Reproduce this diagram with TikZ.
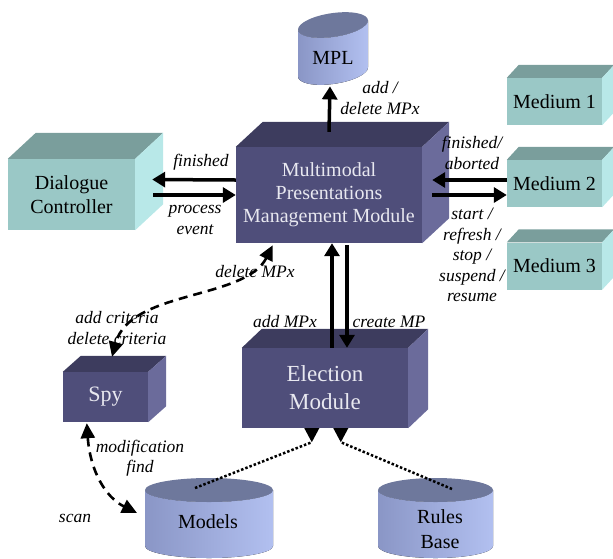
\documentclass[tikz,border=0pt]{standalone}
\usepackage{fontspec}
\setmainfont{Liberation Serif}
\usetikzlibrary{arrows.meta,calc}

\definecolor{modfront}{HTML}{4F4E7A}
\definecolor{modtop}{HTML}{3D3C5E}
\definecolor{modside}{HTML}{6B6B9B}
\definecolor{modtext}{HTML}{E8E8F0}
\definecolor{tealfront}{HTML}{9AC8C6}
\definecolor{tealtop}{HTML}{7A9E9C}
\definecolor{tealside}{HTML}{B8E8E8}
\definecolor{drumdark}{HTML}{8A96C6}
\definecolor{drumlight}{HTML}{B2C0F0}
\definecolor{drumtop}{HTML}{6E789C}

% top and right faces of a cuboid whose front face is node #1
\newcommand\cubefaces[5]{%
  \fill[#4] (#1.north west) -- ++(#2,-#3) -- ($(#1.north east)+(#2,-#3)$) -- (#1.north east) -- cycle;
  \fill[#5] (#1.north east) -- ++(#2,-#3) -- ($(#1.south east)+(#2,-#3)$) -- (#1.south east) -- cycle;}

% drum: centre x, top y, x radius, y radius, height
\newcommand\drum[5]{%
  \fill[left color=drumdark, right color=drumlight]
    ({#1-#3},#2) -- ({#1-#3},{#2+#5})
    arc[start angle=180, end angle=0, x radius=#3, y radius=#4]
    -- ({#1+#3},#2)
    arc[start angle=0, end angle=180, x radius=#3, y radius=#4] -- cycle;
  \fill[drumtop] (#1,#2) ellipse[x radius=#3, y radius=#4];}

\tikzset{
  modbox/.style={fill=modfront, text=modtext, align=center, inner sep=0pt,
    font=\fontsize{20}{23}\selectfont},
  tealbox/.style={fill=tealfront, text=black, align=center, inner sep=0pt,
    font=\fontsize{20}{24}\selectfont},
  drumtext/.style={align=center, inner sep=0pt, font=\fontsize{20}{25}\selectfont},
  lab/.style={align=center, inner sep=0pt, font=\fontsize{17.5}{20.5}\selectfont\itshape},
  bigarrow/.style={line width=3.5pt, -{Triangle[length=13pt,width=15pt]}},
  dasharrow/.style={line width=2.6pt, dash pattern=on 9pt off 6pt,
    {Triangle[length=15pt,width=14pt]}-{Triangle[length=15pt,width=14pt]}},
  dotline/.style={line width=2.5pt, dash pattern=on 2.5pt off 2pt},
}

\begin{document}
\begin{tikzpicture}[x=1pt,y=-1pt]
\useasboundingbox (0,0) rectangle (613,558);

% ---- cuboid modules
\node[tealbox, minimum width=127pt, minimum height=71pt] (dc) at (71.5,194.5) {Dialogue\\Controller};
\cubefaces{dc}{28}{26}{tealtop}{tealside}

\node[modbox, minimum width=186pt, minimum height=96pt] (mppm) at (329,195) {Multimodal\\Presentations\\Management Module};
\cubefaces{mppm}{27}{25}{modtop}{modside}

\node[tealbox, minimum width=95pt, minimum height=47pt] (m1) at (554.5,101.5) {Medium 1};
\cubefaces{m1}{12}{13}{tealtop}{tealside}
\node[tealbox, minimum width=95pt, minimum height=47pt] (m2) at (554.5,183.5) {Medium 2};
\cubefaces{m2}{12}{13}{tealtop}{tealside}
\node[tealbox, minimum width=95pt, minimum height=47pt] (m3) at (554.5,266) {Medium 3};
\cubefaces{m3}{12}{13}{tealtop}{tealside}

\node[modbox, minimum width=85pt, minimum height=50pt, font=\fontsize{22}{26}\selectfont] (spy) at (105.5,397) {Spy};
\cubefaces{spy}{18}{16}{modtop}{modside}

\node[modbox, minimum width=166pt, minimum height=80pt, font=\fontsize{23}{28}\selectfont] (elect) at (325,388) {Election\\Module};
\cubefaces{elect}{20}{19}{modtop}{modside}

% ---- drums
\begin{scope}[shift={(333,0)}, yslant=0.13]
  \drum{0}{25}{35}{12}{47}
  \node[drumtext] (mpl) at (0,58) {MPL};
  \coordinate (mpl-base) at (-3,86);
\end{scope}

\drum{209}{490}{64}{12}{56}
\node[drumtext] (models) at (208,522) {Models};
\coordinate (models-top) at (195,488);
\coordinate (models-side) at (137,513);

\drum{435.5}{490}{57.5}{12}{56}
\node[drumtext] (rules) at (440,529.5) {Rules\\Base};
\coordinate (rules-top) at (452,489);

% ---- solid arrows
\draw[bigarrow] ($(mppm.north)+(0,-15)$) -- (mpl-base);
\node[lab] (l-mpl) at (380,98) {add /\\delete MPx};

\draw[bigarrow] ($(mppm.west)+(0,-15)$) -- ($(dc.east)+(17,-15)$);
\draw[bigarrow] ($(dc.east)+(18,0.5)$) -- ($(mppm.west)+(0,0)$);
\node[lab] (l-fin) at (201,162) {finished};
\node[lab] (l-proc) at (195,220) {process\\event};

\draw[bigarrow] ($(m2.west)+(0,-3.5)$) -- ($(mppm.east)+(10,-15)$);
\draw[bigarrow] ($(mppm.east)+(10,0)$) -- ($(m2.west)+(0,11.5)$);
\node[lab] (l-abort) at (472,153) {finished/\\aborted};
\node[lab] (l-ctrl) at (472,255) {start /\\refresh /\\stop /\\suspend /\\resume};

\draw[bigarrow] ($(elect.north)+(7,0)$) -- ($(mppm.south)+(3,0)$);
\draw[bigarrow] ($(mppm.south)+(18,2)$) -- ($(elect.north)+(22,0)$);
\node[lab] (l-add) at (285,322) {add MPx};
\node[lab] (l-create) at (389,322) {create MP};

% ---- dashed links of the spy
\draw[dasharrow] ($(mppm.south west)+(37,2)$) .. controls (245,300) and (130,290) .. ($(spy.north)+(6.5,-15)$);
\node[lab] (l-delmpx) at (255,272) {delete MPx};
\node[lab] (l-crit) at (117,328) {add criteria\\delete criteria};

\draw[dasharrow] ($(spy.south west)+(24,1)$) .. controls (90,470) and (105,497) .. (models-side);
\node[lab] (l-mod) at (140,458) {modification\\find};
\node[lab] (l-scan) at (75,518) {scan};

% ---- dotted links into the election module
\coordinate (e1) at ($(elect.south west)+(70,14)$);
\coordinate (e2) at ($(elect.south west)+(99,14)$);
\draw[dotline] (models-top) -- (e1);
\draw[dotline] (rules-top) -- (e2);
\fill ($(e1)+(-7.5,-14)$) -- ($(e1)+(7.5,-14)$) -- (e1) -- cycle;
\fill ($(e2)+(-7.5,-14)$) -- ($(e2)+(7.5,-14)$) -- (e2) -- cycle;
\end{tikzpicture}
\end{document}
